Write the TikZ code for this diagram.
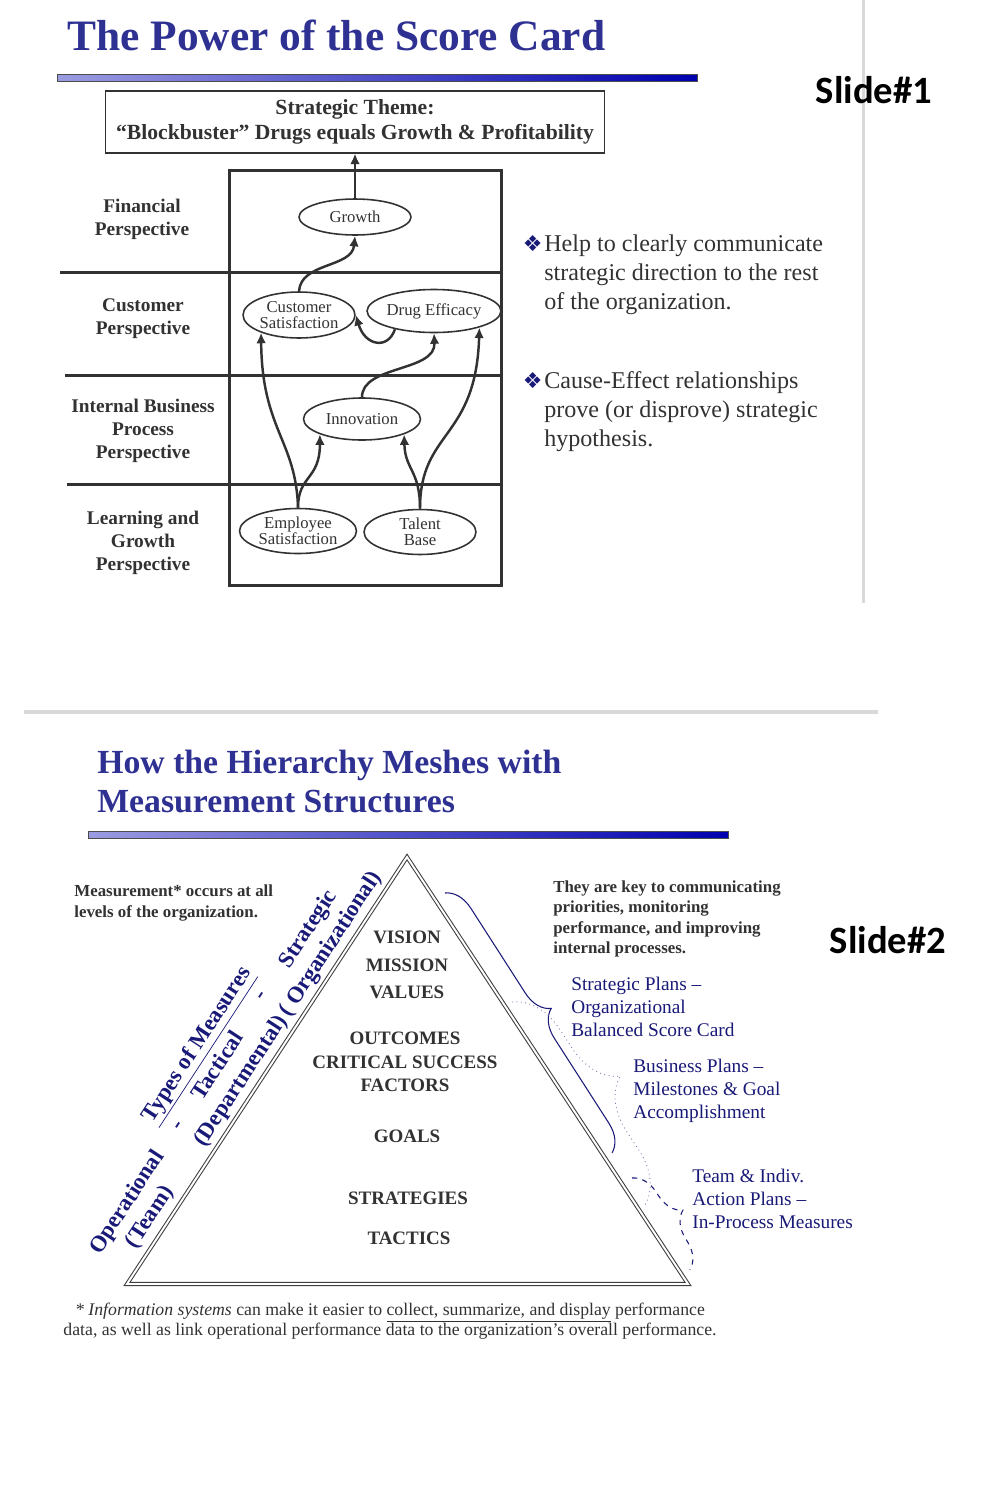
\documentclass[tikz,border=0pt]{standalone}
\usepackage{fontspec}
\setmainfont{Liberation Serif}
\newfontfamily\slidefont{Carlito}
\newfontfamily\dingfont{DejaVu Sans}
\usepackage{xcolor}
\usetikzlibrary{arrows.meta,shapes.geometric,decorations.pathreplacing}

\definecolor{ttlblue}{RGB}{46,49,146}
\definecolor{navy}{RGB}{25,25,120}
\definecolor{ink}{RGB}{50,50,50}
\definecolor{barlight}{RGB}{155,155,225}
\definecolor{bardark}{RGB}{0,0,175}
\newcommand{\dia}{\makebox[0pt][r]{\textcolor{navy}{\dingfont\fontsize{12.5}{12}\selectfont ❖}\hspace{1pt}}}

\begin{document}
\begin{tikzpicture}[x=0.02cm,y=-0.02cm,>={Latex[length=6pt,width=5.5pt]},
 ttl/.style={anchor=base west,inner sep=0,text=ttlblue,font=\bfseries\fontsize{24.7}{29}\selectfont},
 ttlb/.style={ttl,font=\bfseries\fontsize{19.2}{23}\selectfont},
 bar/.style={left color=barlight,right color=bardark,draw=black!70,line width=0.4pt},
 tag/.style={inner sep=0,font=\slidefont\bfseries\fontsize{22}{26}\selectfont},
 persp/.style={align=center,inner sep=0,text=ink,font=\bfseries\fontsize{11}{13.1}\selectfont},
 oval/.style={ellipse,draw=ink,line width=0.9pt,inner sep=0,align=center,text=ink,font=\fontsize{9.5}{9}\selectfont},
 link/.style={->,line width=1.4pt,draw=ink},
 sep/.style={line width=1.7pt,draw=ink},
 point/.style={anchor=west,align=left,inner sep=0,text=ink,font=\fontsize{13.7}{16.5}\selectfont},
 lvl/.style={align=center,inner sep=0,text=ink,font=\bfseries\fontsize{10.8}{13.4}\selectfont},
 note/.style={anchor=west,align=left,inner sep=0,text=ink,font=\bfseries\fontsize{9.6}{11.6}\selectfont},
 plan/.style={anchor=west,align=left,inner sep=0,text=navy,font=\fontsize{11}{13.1}\selectfont},
 meas/.style={inner sep=0,rotate=56.8,align=center,text=navy,font=\bfseries\fontsize{13}{15.3}\selectfont},
 brc/.style={decorate,draw=navy,line width=0.6pt}]
\useasboundingbox (0,0) rectangle (996,1512);

% slide 1
\draw[line width=1.7pt,black!15] (863,0) -- (863,603);
\node[ttl] (title1) at (67,50) {The Power of the Score Card};
\shade[bar] (57,74) rectangle (697,81);
\node[tag] (slide1) at (874,90) {Slide\#1};

\node[draw=ink,line width=0.6pt,minimum width=10cm,minimum height=1.24cm,align=center,text=ink,
 font=\bfseries\fontsize{12.3}{14.2}\selectfont] (theme) at (355,122)
 {Strategic Theme:\\“Blockbuster” Drugs equals Growth \& Profitability};
\node[draw=ink,line width=1.7pt,minimum width=5.46cm,minimum height=8.32cm,inner sep=0] (card) at (365.5,378) {};
\draw[sep] (60,272) -- (502,272);
\draw[sep] (65,375) -- (502,375);
\draw[sep] (67,484) -- (502,484);

\node[persp] (fin) at (142,219) {Financial\\Perspective};
\node[persp] (cus) at (143,319) {Customer\\Perspective};
\node[persp] (ibp) at (143,431) {Internal Business\\Process\\Perspective};
\node[persp] (lag) at (143,543) {Learning and\\Growth\\Perspective};

\node[oval,minimum width=2.24cm,minimum height=0.72cm] (growth) at (355,217) {Growth};
\node[oval,minimum width=2.24cm,minimum height=0.92cm] (custsat) at (299,315) {Customer\\Satisfaction};
\node[oval,minimum width=2.34cm,minimum height=0.86cm] (drug) at (434,311) {Drug Efficacy};
\node[oval,minimum width=2.34cm,minimum height=0.84cm] (innov) at (362,419) {Innovation};
\node[oval,minimum width=2.34cm,minimum height=0.9cm] (empsat) at (298,531) {Employee\\Satisfaction};
\node[oval,minimum width=2.24cm,minimum height=0.9cm] (talent) at (420,532) {Talent\\Base};

\draw[link] (growth) -- (theme);
\draw[link] (custsat.north) .. controls (301,262) and (352,268) .. (growth.south);
\draw[link] (drug.205) .. controls (388,350) and (365,346) .. (custsat.east);
\draw[link] (innov.north) .. controls (362,365) and (436,372) .. (drug.south);
\draw[link] (empsat.north) .. controls (296,440) and (262,430) .. (custsat.205);
\draw[link] (empsat.north) .. controls (298,475) and (320,480) .. (innov.200);
\draw[link] (talent.north) .. controls (420,430) and (476,440) .. (drug.340);
\draw[link] (talent.north) .. controls (420,470) and (405,470) .. (innov.340);

\node[point] (pt1) at (544,275) {\dia Help to clearly communicate\\strategic direction to the rest\\of the organization.};
\node[point] (pt2) at (544,412) {\dia Cause-Effect relationships\\prove (or disprove) strategic\\hypothesis.};

% slide 2
\draw[line width=2.2pt,black!15] (24,712) -- (878,712);
\node[ttlb] (title2a) at (97,773) {How the Hierarchy Meshes with};
\node[ttlb] (title2b) at (97,812) {Measurement Structures};
\shade[bar] (88,831) rectangle (728,838);
\node[tag] (slide2) at (888,940) {Slide\#2};

\draw[draw=black!75,line width=0.6pt,double=white,double distance=1.1pt] (407,857) -- (688,1284) -- (127,1284) -- cycle;

\node[lvl,font=\bfseries\fontsize{10.8}{15.6}\selectfont] (vision) at (407,965) {VISION\\MISSION\\VALUES};
\node[lvl] (outcomes) at (405,1062) {OUTCOMES\\CRITICAL SUCCESS\\FACTORS};
\node[lvl] (goals) at (407,1136) {GOALS};
\node[lvl] (strat) at (408,1198) {STRATEGIES};
\node[lvl] (tact) at (409,1238) {TACTICS};

\node[note] (meas) at (74,903) {Measurement* occurs at all\\levels of the organization.};
\node[note] (key) at (553,919) {They are key to communicating\\priorities, monitoring\\performance, and improving\\internal processes.};

\node[meas] (types) at (199,1046) {\underline{Types of Measures}};
\node[meas] (oper) at (139,1210) {Operational\\(Team)};
\node[meas] (dasha) at (180,1127) {-};
\node[meas] (tactical) at (230,1074) {Tactical\\(Departmental)};
\node[meas] (dashb) at (263,997) {-};
\node[meas] (strategic) at (320,937) {Strategic\\( Organizational)};

\coordinate (b1top) at (445,893);
\coordinate (b1bot) at (612,1153);
\coordinate (b2top) at (512,1002);
\coordinate (b2bot) at (645,1205);
\coordinate (b3top) at (632,1178);
\coordinate (b3bot) at (690,1270);
\draw[brc,decoration={brace,amplitude=0.54cm}] (b1top) -- (b1bot);
\draw[brc,draw=navy!60,line width=0.5pt,dotted,decoration={brace,amplitude=1.0cm}] (b2top) -- (b2bot);
\draw[brc,dashed,decoration={brace,amplitude=0.52cm}] (b3top) -- (b3bot);

\node[plan] (sp) at (571,1007) {Strategic Plans –\\Organizational\\Balanced Score Card};
\node[plan] (bp) at (633,1091) {Business Plans –\\Milestones \& Goal\\Accomplishment};
\node[plan] (tp) at (692,1199) {Team \& Indiv.\\Action Plans –\\In-Process Measures};

\node[align=center,inner sep=0,text=ink,font=\fontsize{10.1}{11.4}\selectfont] (foot) at (390,1321)
 {\textit{* Information systems} can make it easier to \underline{collect, summarize, and display} performance\\
  data, as well as link operational performance data to the organization’s overall performance.};
\end{tikzpicture}
\end{document}
